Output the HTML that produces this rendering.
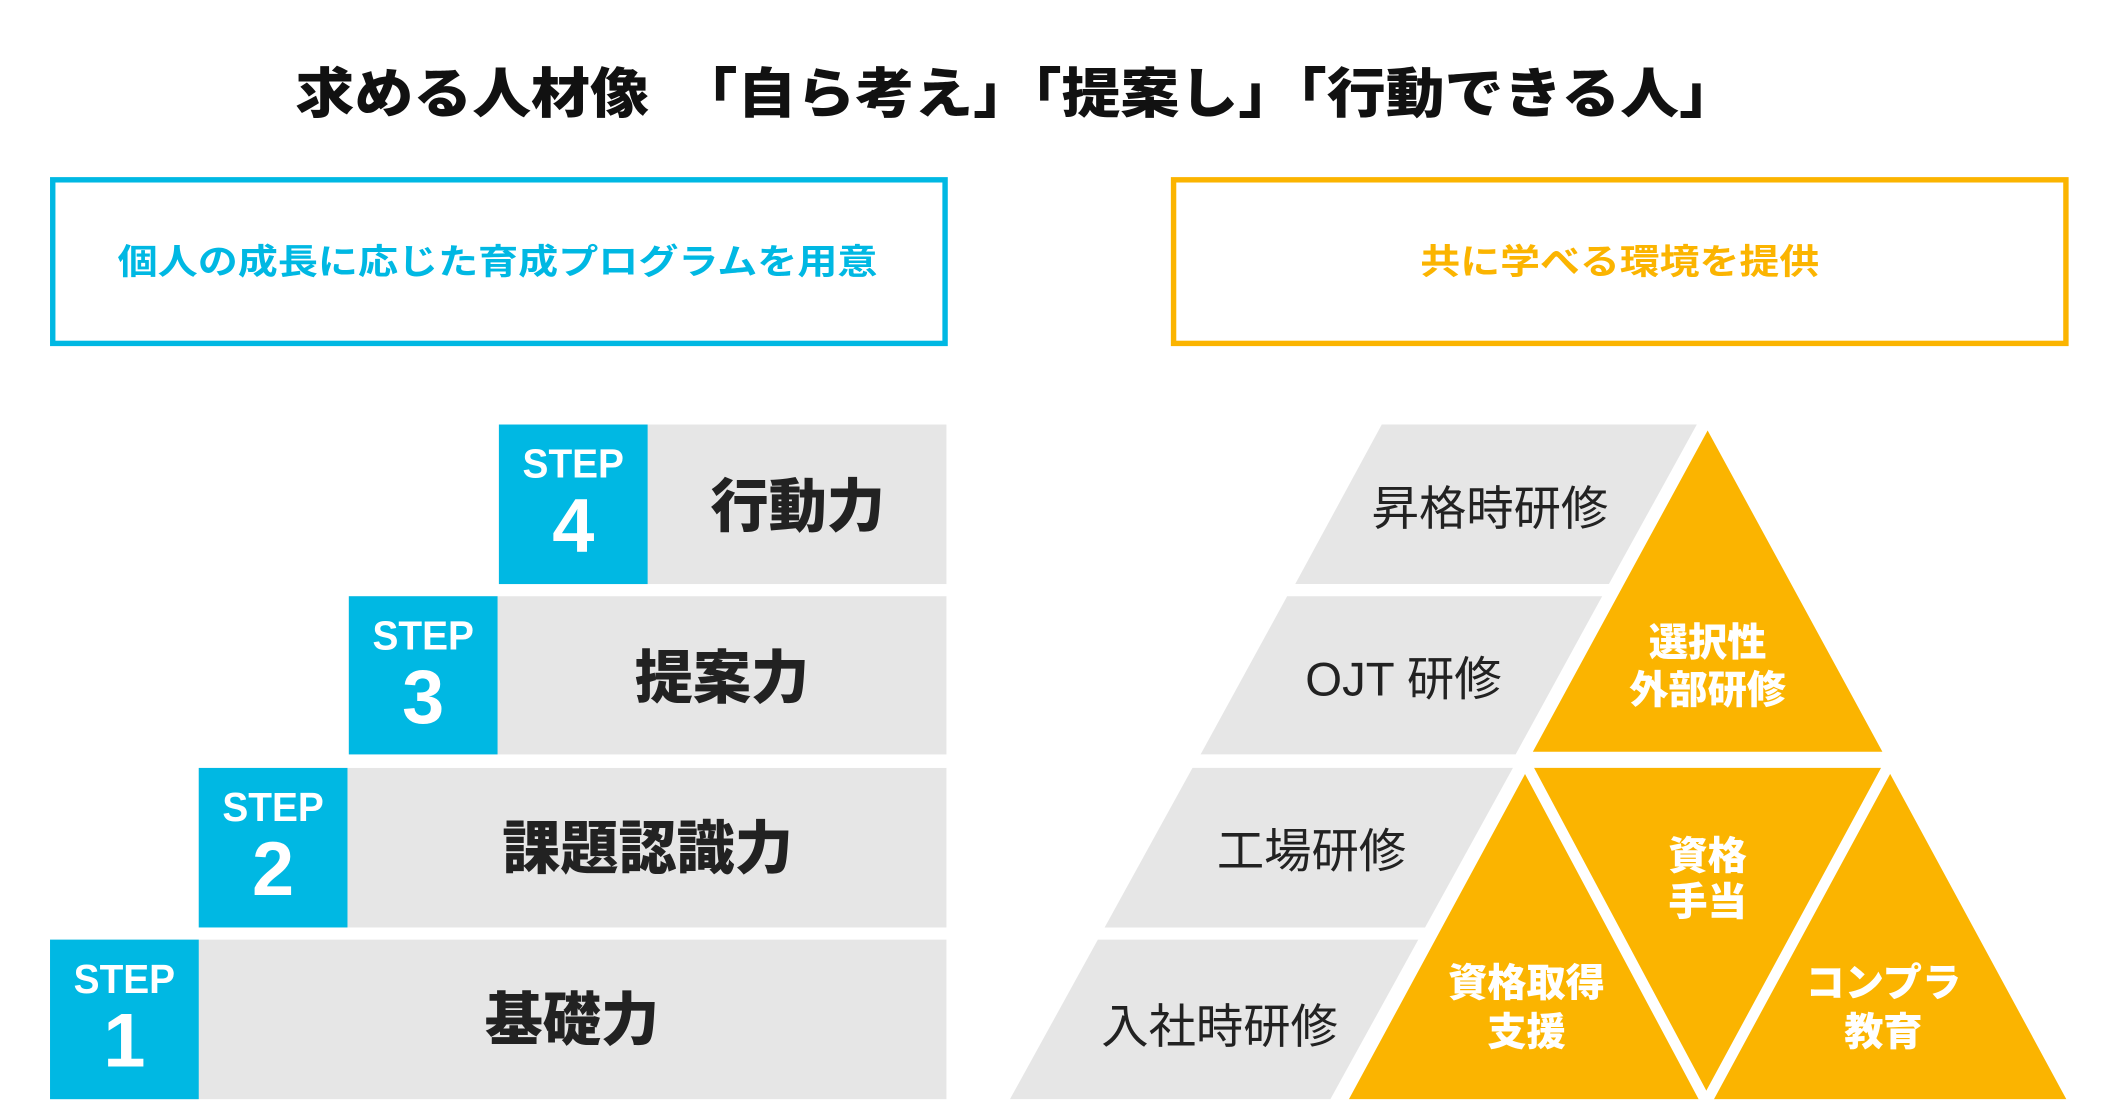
<!DOCTYPE html>
<html><head><meta charset="utf-8"><style>
html,body{margin:0;padding:0;background:#fff;}
svg{display:block;}
text{font-family:"Liberation Sans","Noto Sans CJK JP",sans-serif;}
</style></head><body>
<svg width="2120" height="1111" viewBox="0 0 1568 821.75" preserveAspectRatio="none" xmlns="http://www.w3.org/2000/svg">
<rect width="1568" height="822" fill="#fff"/>
<text x="752" y="70" font-size="40" font-weight="900" fill="#111" text-anchor="middle" dominant-baseline="central" textLength="1067" lengthAdjust="spacingAndGlyphs">求める人材像　「自ら考え」「提案し」「行動できる人」</text>

<rect x="39" y="133" width="660" height="121" fill="none" stroke="#00B8E3" stroke-width="4"/>
<text x="368" y="194" font-size="26" font-weight="700" fill="#00B8E3" text-anchor="middle" dominant-baseline="central" textLength="562" lengthAdjust="spacingAndGlyphs">個人の成長に応じた育成プログラムを用意</text>
<rect x="868" y="133" width="660" height="121" fill="none" stroke="#FBB400" stroke-width="4"/>
<text x="1198" y="194" font-size="26" font-weight="700" fill="#FBB400" text-anchor="middle" dominant-baseline="central" textLength="295" lengthAdjust="spacingAndGlyphs">共に学べる環境を提供</text>

<g font-weight="900">
<rect x="369" y="314" width="331" height="118" fill="#E6E6E6"/>
<rect x="369" y="314" width="110" height="118" fill="#00B8E3"/>
<text x="424" y="343" font-size="30" fill="#fff" text-anchor="middle" dominant-baseline="central" textLength="75" lengthAdjust="spacingAndGlyphs">STEP</text>
<text x="424" y="389" font-size="56" fill="#fff" text-anchor="middle" dominant-baseline="central">4</text>
<text x="590" y="375" font-size="43" fill="#222" text-anchor="middle" dominant-baseline="central">行動力</text>

<rect x="258" y="441" width="442" height="117" fill="#E6E6E6"/>
<rect x="258" y="441" width="110" height="117" fill="#00B8E3"/>
<text x="313" y="470" font-size="30" fill="#fff" text-anchor="middle" dominant-baseline="central" textLength="75" lengthAdjust="spacingAndGlyphs">STEP</text>
<text x="313" y="516" font-size="56" fill="#fff" text-anchor="middle" dominant-baseline="central">3</text>
<text x="534" y="502" font-size="43" fill="#222" text-anchor="middle" dominant-baseline="central">提案力</text>

<rect x="147" y="568" width="553" height="118" fill="#E6E6E6"/>
<rect x="147" y="568" width="110" height="118" fill="#00B8E3"/>
<text x="202" y="597" font-size="30" fill="#fff" text-anchor="middle" dominant-baseline="central" textLength="75" lengthAdjust="spacingAndGlyphs">STEP</text>
<text x="202" y="643" font-size="56" fill="#fff" text-anchor="middle" dominant-baseline="central">2</text>
<text x="479" y="628" font-size="43" fill="#222" text-anchor="middle" dominant-baseline="central">課題認識力</text>

<rect x="37" y="695" width="663" height="118" fill="#E6E6E6"/>
<rect x="37" y="695" width="110" height="118" fill="#00B8E3"/>
<text x="92" y="724" font-size="30" fill="#fff" text-anchor="middle" dominant-baseline="central" textLength="75" lengthAdjust="spacingAndGlyphs">STEP</text>
<text x="92" y="770" font-size="56" fill="#fff" text-anchor="middle" dominant-baseline="central">1</text>
<text x="423" y="755" font-size="43" fill="#222" text-anchor="middle" dominant-baseline="central">基礎力</text>
</g>

<polygon points="1022,314 1255,314 1190,432 958,432" fill="#E6E6E6"/>
<polygon points="952,441 1185,441 1121,558 888,558" fill="#E6E6E6"/>
<polygon points="882,568 1119,568 1054,686 817,686" fill="#E6E6E6"/>
<polygon points="812,695 1049,695 984,813 747,813" fill="#E6E6E6"/>
<g font-size="35" fill="#222" text-anchor="middle" dominant-baseline="central">
<text x="1102" y="377">昇格時研修</text>
<text x="1038" y="503">OJT 研修</text>
<text x="970" y="630">工場研修</text>
<text x="902" y="760">入社時研修</text>
</g>
<g fill="#FBB400" stroke="#fff" stroke-width="8" stroke-linejoin="miter">
<polygon points="1263,310 1399,560 1127,560"/>
<polygon points="1128,564 1265,817 991,817"/>
<polygon points="1128,564 1398,564 1263,817"/>
<polygon points="1398,564 1535,817 1261,817"/>
</g>
<g font-size="29" font-weight="900" fill="#fff" text-anchor="middle" dominant-baseline="central">
<text x="1263" y="476">選択性</text>
<text x="1263" y="511">外部研修</text>
<text x="1263" y="634">資格</text>
<text x="1263" y="668">手当</text>
<text x="1129" y="728">資格取得</text>
<text x="1129" y="764">支援</text>
<text x="1393" y="728">コンプラ</text>
<text x="1393" y="764">教育</text>
</g>
</svg>
</body></html>
